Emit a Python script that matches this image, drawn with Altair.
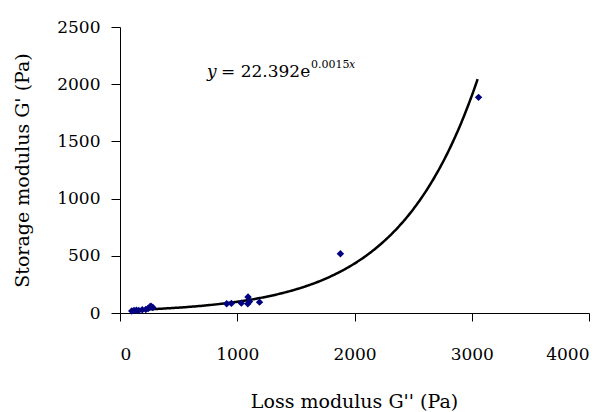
import altair as alt
import pandas as pd

# Data
loss_modulus = [100, 120, 140, 160, 190, 220, 240, 255, 265, 280,
                910, 950, 1035, 1090, 1092, 1105, 1190, 1880, 3058]
storage_modulus = [18, 22, 25, 22, 28, 30, 40, 55, 60, 48,
                   81, 84, 86, 80, 140, 100, 95, 518, 1885]

# Trendline (exponential fit, as displayed on the chart)
trend_a = 22.392
trend_k = 0.00148
trend_start = 100
trend_end = 3058

x_ticks = [0, 1000, 2000, 3000, 4000]
y_ticks = [0, 500, 1000, 1500, 2000, 2500]

FONT = "DejaVu Serif"

df = pd.DataFrame({"loss": loss_modulus, "storage": storage_modulus})

x_scale = alt.Scale(domain=[0, 4000], nice=False)
y_scale = alt.Scale(domain=[0, 2500], nice=False)

x_axis = alt.Axis(values=x_ticks, format="d", title="Loss modulus G'' (Pa)", grid=False,
                  labelBaseline="alphabetic", labelPadding=38, tickSize=8,
                  titleX=234, titleY=94, titleBaseline="alphabetic", titleAlign="center")
y_axis = alt.Axis(values=y_ticks, format="d", title="Storage modulus G' (Pa)", grid=False,
                  labelPadding=11, tickSize=9,
                  titleX=-98, titleY=143, titleAngle=-90, titleBaseline="middle",
                  titleAlign="center")

points = alt.Chart(df).mark_point(shape="diamond", filled=True, size=55,
                                  color="#000080", opacity=1).encode(
    x=alt.X("loss:Q", scale=x_scale, axis=x_axis),
    y=alt.Y("storage:Q", scale=y_scale, axis=y_axis),
)

trend = alt.Chart(alt.sequence(trend_start, trend_end + 1, 10, as_="loss")).transform_calculate(
    storage=f"{trend_a} * exp({trend_k} * datum.loss)"
).mark_line(color="black", strokeWidth=2.5).encode(
    x=alt.X("loss:Q", scale=x_scale),
    y=alt.Y("storage:Q", scale=y_scale),
)

eq_size = 17
sup_size = 11
eq_y = alt.Chart(pd.DataFrame({"t": ["y"]})).mark_text(
    font=FONT, fontSize=eq_size, fontStyle="italic", align="left", baseline="alphabetic"
).encode(text="t:N", x=alt.value(87), y=alt.value(50))
eq_main = alt.Chart(pd.DataFrame({"t": ["= 22.392e"]})).mark_text(
    font=FONT, fontSize=eq_size, align="left", baseline="alphabetic"
).encode(text="t:N", x=alt.value(101), y=alt.value(50))
eq_sup = alt.Chart(pd.DataFrame({"t": ["0.0015"]})).mark_text(
    font=FONT, fontSize=sup_size, align="left", baseline="alphabetic"
).encode(text="t:N", x=alt.value(191), y=alt.value(41))
eq_supx = alt.Chart(pd.DataFrame({"t": ["x"]})).mark_text(
    font=FONT, fontSize=sup_size, fontStyle="italic", align="left", baseline="alphabetic"
).encode(text="t:N", x=alt.value(229), y=alt.value(41))

chart = alt.layer(trend, points, eq_y, eq_main, eq_sup, eq_supx).properties(
    width=469, height=286,
    autosize=alt.AutoSizeParams(type="none"),
    padding={"left": 120, "top": 27, "right": 23, "bottom": 99},
    background="white",
).configure_view(stroke=None).configure_axis(
    labelFont=FONT, titleFont=FONT, labelFontSize=17, titleFontSize=19,
    labelColor="black", titleColor="black", titleFontWeight="normal",
    domainColor="black", tickColor="black", domainWidth=1, tickWidth=1,
)

chart.save("out.html", embed_options={"renderer": "svg", "actions": False})
